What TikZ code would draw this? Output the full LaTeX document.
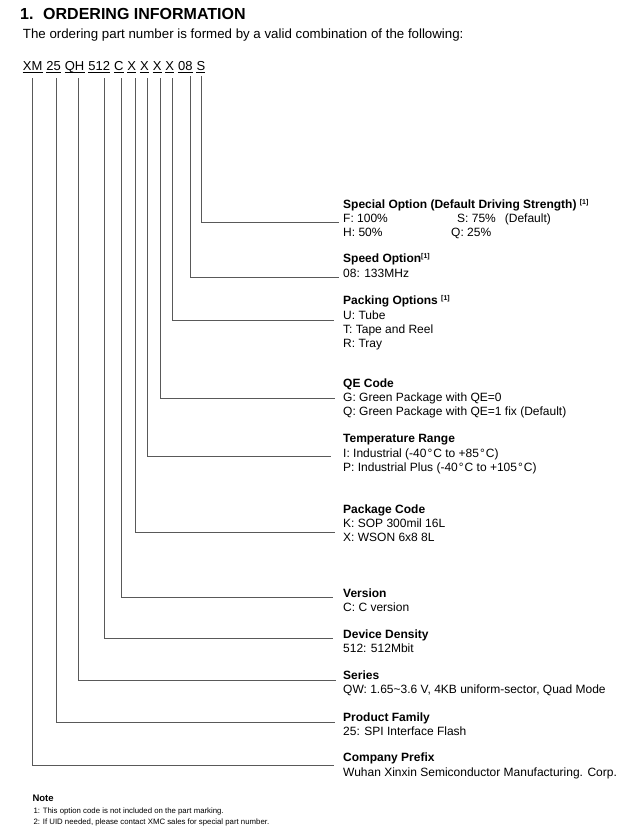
\documentclass[tikz,border=0pt]{standalone}
\usepackage{fontspec}
\setmainfont{Liberation Sans}
\usetikzlibrary{positioning}

\tikzset{
    seg/.style   = {inner xsep = 0pt, inner ysep = 1.7pt, text depth = 0pt, font = \fontsize{13}{15}\selectfont},
    head/.style  = {anchor = base west, inner sep = 0pt, font = \fontsize{12}{14}\selectfont\bfseries},
    desc/.style  = {anchor = base west, inner sep = 0pt, align = left, font = \fontsize{12}{14}\selectfont},
    lead/.style  = {draw = black!65, line width = 0.9pt},
    uline/.style = {line width = 0.8pt}
}
\newcommand{\optref}{{\fontsize{7}{8}\selectfont\raisebox{4pt}{[1]}}}

\begin{document}
\begin{tikzpicture}[x = 1pt, y = 1pt]
                \useasboundingbox (0,0) rectangle (638,-838);

                % Draw the heading:
                \node [anchor = base west, inner sep = 0pt, font = \fontsize{16}{19}\selectfont\bfseries] (title) at (20,-19.3) {1.\hspace{9.7pt}ORDERING INFORMATION};
                \node [anchor = base west, inner sep = 0pt, font = \fontsize{13.3}{15}\selectfont] (intro) at (22.7,-38.3) {The ordering part number is formed by a valid combination of the following:};

                % Draw the part number:
                \node [seg, anchor = base west] (pXM) at (22.7,-70) {XM};
                \node [seg, base right = 3.6pt of pXM]    (p25)    {25};
                \node [seg, base right = 3.6pt of p25]    (pQH)    {QH};
                \node [seg, base right = 3.6pt of pQH]    (p512)   {512};
                \node [seg, base right = 3.6pt of p512]   (pC)     {C};
                \node [seg, base right = 3.6pt of pC]     (pPkg)   {X};
                \node [seg, base right = 3.6pt of pPkg]   (pTemp)  {X};
                \node [seg, base right = 3.6pt of pTemp]  (pQE)    {X};
                \node [seg, base right = 3.6pt of pQE]    (pPack)  {X};
                \node [seg, base right = 3.6pt of pPack]  (pSpeed) {08};
                \node [seg, base right = 3.6pt of pSpeed] (pSpec)  {S};
                \foreach \s in {pXM, p25, pQH, p512, pC, pPkg, pTemp, pQE, pPack, pSpeed, pSpec}
                    \draw [uline] (\s.south west) -- (\s.south east);

                % Draw the field descriptions (multi-line texts sit on their last line):
                \node [head] (special)    at (343,-208.3) {Special Option (Default Driving Strength) \optref};
                \node [desc] (specialTxt) at (343,-236.3) {\makebox[114pt][l]{F: 100\%}S: 75\%\hspace{9pt}(Default)\\\makebox[108pt][l]{H: 50\%}Q: 25\%};
                \node [head] (speed)      at (343,-262.7) {Speed Option\optref};
                \node [desc] (speedTxt)   at (343,-277.3) {08: 133MHz};
                \node [head] (packing)    at (343,-304.5) {Packing Options \optref};
                \node [desc] (packingTxt) at (343,-347.3) {U: Tube\\T: Tape and Reel\\R: Tray};
                \node [head] (qecode)     at (343,-387.3) {QE Code};
                \node [desc] (qecodeTxt)  at (343,-415)   {G: Green Package with QE=0\\Q: Green Package with QE=1 fix (Default)};
                \node [head] (temp)       at (343,-442.7) {Temperature Range};
                \node [desc] (tempTxt)    at (343,-471.3) {I: Industrial (-40\kern1pt°\kern1pt C to +85\kern1pt°\kern1pt C)\\P: Industrial Plus (-40\kern1pt°\kern1pt C to +105\kern1pt°\kern1pt C)};
                \node [head] (package)    at (343,-513.3) {Package Code};
                \node [desc] (packageTxt) at (343,-541.3) {K: SOP 300mil 16L\\X: WSON 6x8 8L};
                \node [head] (version)    at (343,-597.3) {Version};
                \node [desc] (versionTxt) at (343,-611.3) {C: C version};
                \node [head] (density)    at (343,-638.3) {Device Density};
                \node [desc] (densityTxt) at (343,-652.3) {512: 512Mbit};
                \node [head] (series)     at (343,-679.5) {Series};
                \node [desc] (seriesTxt)  at (343,-693.5) {QW: 1.65\textasciitilde3.6 V, 4KB uniform-sector, Quad Mode};
                \node [head] (family)     at (343,-721)   {Product Family};
                \node [desc] (familyTxt)  at (343,-735)   {25: SPI Interface Flash};
                \node [head] (company)    at (343,-761.7) {Company Prefix};
                \node [desc] (companyTxt) at (343,-776)   {Wuhan Xinxin Semiconductor Manufacturing. Corp.};

                % Ends of the leader lines:
                \coordinate (specialEnd) at (339,-222);
                \coordinate (speedEnd)   at (339,-277.7);
                \coordinate (packingEnd) at (334,-320.7);
                \coordinate (qecodeEnd)  at (335,-398.3);
                \coordinate (tempEnd)    at (331,-456);
                \coordinate (packageEnd) at (335,-532.7);
                \coordinate (versionEnd) at (333,-597);
                \coordinate (densityEnd) at (333,-638);
                \coordinate (seriesEnd)  at (336,-680);
                \coordinate (familyEnd)  at (335,-722);
                \coordinate (companyEnd) at (334,-765);

                % Draw the leader lines:
                \foreach \s/\dx/\dy/\e in {pXM/0.2/-6.3/companyEnd, p25/2.5/-6.3/familyEnd, pQH/3.8/-6.3/seriesEnd, p512/5/-6.3/densityEnd,
                                         pC/3.1/-6.3/versionEnd, pPkg/3.3/-6.3/packageEnd, pTemp/2.9/-6.3/tempEnd, pQE/3/-6.3/qecodeEnd,
                                         pPack/2.9/-6.3/packingEnd, pSpeed/4.7/-4.3/speedEnd, pSpec/0.7/-4.3/specialEnd}
                    \draw [lead] ([xshift = \dx, yshift = \dy]\s.south) |- (\e);

                % Draw the note:
                \node [anchor = base west, inner sep = 0pt, font = \fontsize{9.5}{11}\selectfont\bfseries] (note) at (32.3,-801.7) {Note};
                \node [anchor = base west, inner sep = 0pt, align = left, font = \fontsize{7.8}{11.7}\selectfont] (noteTxt) at (33.3,-824.7) {1: This option code is not included on the part marking.\\2: If UID needed, please contact XMC sales for special part number.};
\end{tikzpicture}
\end{document}
